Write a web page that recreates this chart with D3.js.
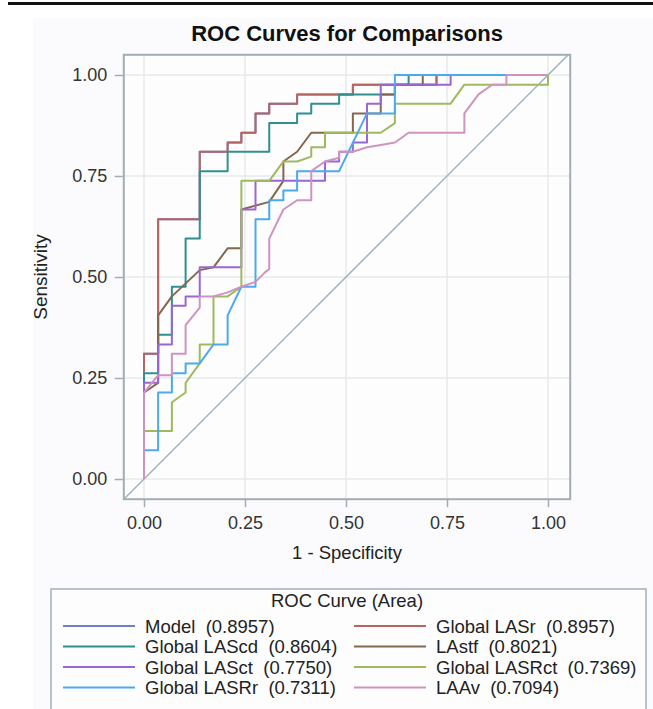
<!DOCTYPE html>
<html><head><meta charset="utf-8">
<script src="https://cdn.jsdelivr.net/npm/d3@7"></script>
<style>body{margin:0;background:#fff;}svg{display:block;font-family:"Liberation Sans",Arial,sans-serif;}</style>
</head><body><div id="chart"></div>
<script>
const seriesNames = ["Model","Global LASr","Global LAScd","LAstf","Global LASct","Global LASRct","Global LASRr","LAAv"];
const seriesAUC = ["0.8957","0.8957","0.8604","0.8021","0.7750","0.7369","0.7311","0.7094"];
const seriesColors = ["#6f7fc4","#b8645f","#2f9090","#84684c","#9b66d3","#9fba5e","#4aa9ef","#cf94bd"];
const xTicks = [0,0.25,0.5,0.75,1];
const yTicks = [0,0.25,0.5,0.75,1];

const rocLASr = [[0,0],[0,0.31],[0.035,0.31],[0.035,0.643],[0.138,0.643],[0.138,0.81],[0.207,0.81],[0.207,0.833],[0.241,0.833],[0.241,0.857],[0.276,0.857],[0.276,0.905],[0.31,0.905],[0.31,0.929],[0.379,0.929],[0.379,0.952],[0.517,0.952],[0.517,0.976],[0.724,0.976],[0.724,1],[1,1]];
const rocModel = rocLASr.map(d => d.slice());
const rocLAScd = [[0,0],[0,0.262],[0.035,0.262],[0.035,0.357],[0.069,0.357],[0.069,0.476],[0.103,0.476],[0.103,0.595],[0.138,0.595],[0.138,0.762],[0.207,0.762],[0.207,0.81],[0.31,0.81],[0.31,0.881],[0.379,0.881],[0.379,0.905],[0.414,0.905],[0.414,0.929],[0.483,0.929],[0.483,0.952],[0.621,0.952],[0.621,0.976],[0.655,0.976],[0.655,1],[1,1]];
const rocLAstf = [[0,0],[0,0.214],[0.035,0.238],[0.035,0.405],[0.069,0.452],[0.138,0.517],[0.172,0.524],[0.207,0.571],[0.241,0.571],[0.241,0.667],[0.31,0.686],[0.345,0.738],[0.345,0.786],[0.379,0.81],[0.414,0.857],[0.517,0.857],[0.517,0.905],[0.586,0.905],[0.586,0.952],[0.621,0.952],[0.621,0.976],[0.69,0.976],[0.69,1],[1,1]];
const rocLASct = [[0,0],[0,0.238],[0.035,0.238],[0.035,0.333],[0.069,0.333],[0.069,0.429],[0.103,0.429],[0.103,0.452],[0.138,0.452],[0.138,0.524],[0.241,0.524],[0.241,0.667],[0.276,0.667],[0.276,0.738],[0.448,0.738],[0.448,0.786],[0.483,0.786],[0.483,0.81],[0.517,0.81],[0.517,0.833],[0.552,0.833],[0.552,0.929],[0.586,0.929],[0.586,0.976],[0.759,0.976],[0.759,1],[1,1]];
const rocLASRct = [[0,0],[0,0.119],[0.069,0.119],[0.069,0.19],[0.103,0.214],[0.103,0.238],[0.138,0.286],[0.138,0.333],[0.172,0.333],[0.172,0.452],[0.207,0.452],[0.241,0.476],[0.241,0.738],[0.31,0.738],[0.345,0.786],[0.379,0.786],[0.414,0.798],[0.414,0.821],[0.448,0.821],[0.448,0.857],[0.586,0.857],[0.621,0.881],[0.621,0.929],[0.759,0.929],[0.793,0.976],[1,0.976],[1,1]];
const rocLASRr = [[0,0],[0,0.071],[0.035,0.071],[0.035,0.214],[0.069,0.214],[0.069,0.262],[0.103,0.262],[0.103,0.286],[0.138,0.286],[0.172,0.333],[0.207,0.333],[0.207,0.405],[0.241,0.476],[0.276,0.476],[0.276,0.643],[0.31,0.643],[0.31,0.69],[0.345,0.69],[0.345,0.714],[0.379,0.714],[0.379,0.762],[0.483,0.762],[0.552,0.905],[0.621,0.905],[0.621,1],[1,1]];
const rocLAAv = [[0,0],[0,0.214],[0.035,0.257],[0.069,0.257],[0.069,0.31],[0.103,0.31],[0.103,0.381],[0.138,0.424],[0.138,0.452],[0.172,0.452],[0.207,0.462],[0.241,0.476],[0.276,0.488],[0.3,0.512],[0.31,0.52],[0.31,0.595],[0.345,0.667],[0.379,0.69],[0.414,0.69],[0.414,0.762],[0.448,0.786],[0.483,0.795],[0.483,0.81],[0.517,0.81],[0.552,0.821],[0.586,0.827],[0.621,0.833],[0.655,0.857],[0.793,0.857],[0.793,0.905],[0.828,0.952],[0.862,0.976],[0.897,0.976],[0.897,1],[1,1]];
const seriesData = [rocModel,rocLASr,rocLAScd,rocLAstf,rocLASct,rocLASRct,rocLASRr,rocLAAv];

const W = 653, H = 709;
const svg = d3.select("#chart").append("svg").attr("width",W).attr("height",H);

// top rule & background
svg.append("rect").attr("x",8).attr("y",2).attr("width",W-8).attr("height",3).attr("fill","#111");
svg.append("rect").attr("x",33).attr("y",18).attr("width",W-33).attr("height",H-18).attr("fill","#fbfbfd");

const x = d3.scaleLinear().domain([0,1]).range([144,548]);
const y = d3.scaleLinear().domain([0,1]).range([479,75]);
const xMin = -0.05, xMax = 1.055, yMin = -0.05, yMax = 1.05;
const fx0 = x(xMin), fx1 = x(xMax), fy0 = y(yMax), fy1 = y(yMin);

svg.append("rect").attr("x",fx0).attr("y",fy0).attr("width",fx1-fx0).attr("height",fy1-fy0).attr("fill","#fdfdfe");

// grid
const g = svg.append("g");
g.selectAll(".gx").data(xTicks).join("line").attr("x1",d=>x(d)).attr("x2",d=>x(d)).attr("y1",fy0).attr("y2",fy1).attr("stroke","#e6eaee").attr("stroke-width",1.5);
g.selectAll(".gy").data(yTicks).join("line").attr("y1",d=>y(d)).attr("y2",d=>y(d)).attr("x1",fx0).attr("x2",fx1).attr("stroke","#e6eaee").attr("stroke-width",1.5);

// clip
svg.append("clipPath").attr("id","clip").append("rect").attr("x",fx0).attr("y",fy0).attr("width",fx1-fx0).attr("height",fy1-fy0);
const plot = svg.append("g").attr("clip-path","url(#clip)");

// diagonal
plot.append("line").attr("x1",x(-0.05)).attr("y1",y(-0.05)).attr("x2",x(1.06)).attr("y2",y(1.06)).attr("stroke","#9fb3bb").attr("stroke-width",1.5);

const line = d3.line().x(d=>x(d[0])).y(d=>y(d[1]));
seriesData.forEach((s,i)=>{
  plot.append("path").datum(s).attr("d",line).attr("fill","none").attr("stroke",seriesColors[i]).attr("stroke-width",2).attr("stroke-linejoin","round");
});

// frame
svg.append("rect").attr("x",fx0).attr("y",fy0).attr("width",fx1-fx0).attr("height",fy1-fy0).attr("fill","none").attr("stroke","#a3adb5").attr("stroke-width",2);

// axes
const xAxis = d3.axisBottom(x).tickValues(xTicks).tickFormat(d3.format(".2f")).tickSize(8).tickSizeOuter(0);
const xa = svg.append("g").attr("transform",`translate(0,${fy1})`).call(xAxis);
xa.select(".domain").remove();
xa.selectAll(".tick line").attr("stroke","#a3adb5").attr("stroke-width",1.5);
xa.selectAll(".tick text").attr("font-size",18).attr("fill","#333").attr("font-family","Liberation Sans, Arial, sans-serif").attr("dy","1.05em");

const yAxis = d3.axisLeft(y).tickValues(yTicks).tickFormat(d3.format(".2f")).tickSize(9).tickSizeOuter(0);
const ya = svg.append("g").attr("transform",`translate(${fx0},0)`).call(yAxis);
ya.select(".domain").remove();
ya.selectAll(".tick line").attr("stroke","#a3adb5").attr("stroke-width",1.5);
ya.selectAll(".tick text").attr("font-size",18).attr("fill","#333").attr("font-family","Liberation Sans, Arial, sans-serif").attr("dx","-0.25em");

// labels
svg.append("text").attr("x",(fx0+fx1)/2).attr("y",41).attr("text-anchor","middle").attr("font-size",22).attr("font-weight","bold").attr("fill","#111").text("ROC Curves for Comparisons");
svg.append("text").attr("x",(fx0+fx1)/2).attr("y",559).attr("text-anchor","middle").attr("font-size",18.5).attr("fill","#222").text("1 - Specificity");
svg.append("text").attr("transform",`translate(47,${(fy0+fy1)/2}) rotate(-90)`).attr("text-anchor","middle").attr("font-size",19).attr("fill","#222").text("Sensitivity");

// legend
const lg = svg.append("g");
lg.append("rect").attr("x",51).attr("y",589).attr("width",595).attr("height",140).attr("fill","#fdfdfe").attr("stroke","#9fb3bb").attr("stroke-width",1.5);
lg.append("text").attr("x",347).attr("y",607).attr("text-anchor","middle").attr("font-size",18.5).attr("fill","#222").text("ROC Curve (Area)");
const colX = [63, 354], rowY = [626, 646.5, 667, 687.5];
seriesNames.forEach((n,i)=>{
  const cx = colX[i%2], cy = rowY[Math.floor(i/2)];
  lg.append("line").attr("x1",cx).attr("x2",cx+72).attr("y1",cy).attr("y2",cy).attr("stroke",seriesColors[i]).attr("stroke-width",2);
  lg.append("text").attr("x",cx+82).attr("y",cy+6.5).attr("font-size",18.5).attr("fill","#222").attr("xml:space","preserve").style("white-space","pre").text(`${n}  (${seriesAUC[i]})`);
});
</script></body></html>
